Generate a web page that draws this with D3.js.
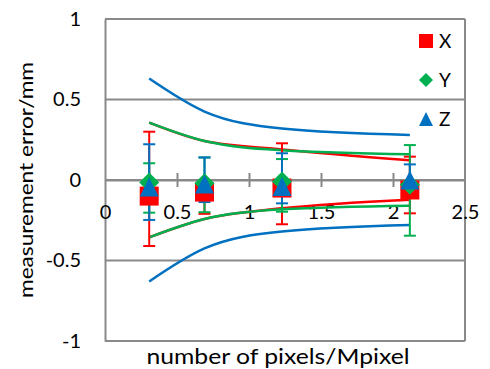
<!DOCTYPE html>
<html>
<head>
<meta charset="utf-8">
<script src="https://cdn.jsdelivr.net/npm/d3@7"></script>
<style>
  body { margin: 0; background: #fff; }
  text { font-family: Lato, "Liberation Sans", sans-serif; fill: #000; }
</style>
</head>
<body>
<div id="chart"></div>
<script>
// x positions (Mpixel)
var pixels = [0.307, 0.691, 1.229, 2.117];

// series means and error bar ends
var xMean = [-0.10, -0.075, -0.05, -0.062],
    xHigh = [0.30, -0.04, 0.228, 0.145],
    xLow  = [-0.41, -0.21, -0.275, -0.207];
var yMean = [-0.015, -0.02, -0.01, -0.03],
    yHigh = [0.104, 0.14, 0.13, 0.217],
    yLow  = [-0.203, -0.20, -0.197, -0.346];
var zMean = [-0.044, -0.025, -0.04, 0.0],
    zHigh = [0.222, 0.14, 0.166, 0.097],
    zLow  = [-0.248, -0.137, -0.145, -0.10];

// bound curves
var blueUpper  = [0.63, 0.425, 0.32, 0.28],
    blueLower  = [-0.63, -0.425, -0.32, -0.28],
    greenUpper = [0.356, 0.242, 0.185, 0.16],
    greenLower = [-0.356, -0.242, -0.182, -0.16],
    redUpper   = [0.356, 0.242, 0.19, 0.122],
    redLower   = [-0.356, -0.242, -0.176, -0.122];

var xTicks = [0, 0.5, 1, 1.5, 2, 2.5],
    yTicks = [-1, -0.5, 0, 0.5, 1];

var width = 490, height = 369;
var RED = "#FF0000", GREEN = "#00B050", BLUE = "#0070C0", GREY = "#898989";

var svg = d3.select("#chart").append("svg")
  .attr("width", width)
  .attr("height", height);

var xScale = d3.scaleLinear().domain([0, 2.5]).range([105, 465]);
var yScale = d3.scaleLinear().domain([-1, 1]).range([341, 19]);

// gridlines
svg.append("g")
  .selectAll("line")
  .data(yTicks)
  .enter()
  .append("line")
  .attr("x1", xScale(0))
  .attr("x2", xScale(2.5))
  .attr("y1", function(d) { return yScale(d); })
  .attr("y2", function(d) { return yScale(d); })
  .attr("stroke", GREY)
  .attr("stroke-width", 2);

// right border
svg.append("line")
  .attr("x1", xScale(2.5)).attr("x2", xScale(2.5))
  .attr("y1", yScale(1)).attr("y2", yScale(-1))
  .attr("stroke", GREY).attr("stroke-width", 2);

// y axis (left border, labels only)
var yAxis = d3.axisLeft(yScale)
  .tickValues(yTicks)
  .tickSize(0)
  .tickPadding(24)
  .tickFormat(function(d) { return d; });

var gy = svg.append("g")
  .attr("transform", `translate(${xScale(0)},0)`)
  .call(yAxis);
gy.select(".domain").attr("stroke", GREY).attr("stroke-width", 2);
gy.selectAll("text").style("font-size", "20px").style("font-family", "Lato, sans-serif").attr("fill", "#000");

// x axis through zero
var xAxis = d3.axisBottom(xScale)
  .tickValues(xTicks)
  .tickSizeInner(7)
  .tickSizeOuter(0)
  .tickPadding(18)
  .tickFormat(function(d) { return d; });

var gx = svg.append("g")
  .attr("transform", `translate(0,${yScale(0)})`)
  .call(xAxis);
gx.select(".domain").attr("stroke", GREY).attr("stroke-width", 2);
gx.selectAll(".tick line")
  .attr("y1", -7)
  .attr("stroke", GREY)
  .attr("stroke-width", 2)
  .filter(function(d) { return d === 0 || d === 2.5; })
  .remove();
gx.selectAll("text").style("font-size", "20px").style("font-family", "Lato, sans-serif").attr("fill", "#000");

// axis titles
svg.append("text")
  .attr("x", 278)
  .attr("y", 364)
  .attr("text-anchor", "middle")
  .attr("textLength", 263)
  .attr("lengthAdjust", "spacingAndGlyphs")
  .style("font-size", "21px")
  .text("number of pixels/Mpixel");

svg.append("text")
  .attr("transform", "translate(33,180) rotate(-90)")
  .attr("text-anchor", "middle")
  .attr("textLength", 236)
  .attr("lengthAdjust", "spacingAndGlyphs")
  .style("font-size", "20px")
  .text("measurement error/mm");

// curves
var line = d3.line()
  .x(function(d, i) { return xScale(pixels[i]); })
  .y(function(d) { return yScale(d); })
  .curve(d3.curveMonotoneX);

var curves = [
  { values: redUpper, color: RED },
  { values: redLower, color: RED },
  { values: greenUpper, color: GREEN },
  { values: greenLower, color: GREEN },
  { values: blueUpper, color: BLUE },
  { values: blueLower, color: BLUE }
];

svg.append("g")
  .selectAll("path")
  .data(curves)
  .enter()
  .append("path")
  .attr("d", function(d) { return line(d.values); })
  .attr("fill", "none")
  .attr("stroke", function(d) { return d.color; })
  .attr("stroke-width", 2.5);

// series
var series = [
  { name: "X", mean: xMean, high: xHigh, low: xLow, color: RED, shape: "square" },
  { name: "Y", mean: yMean, high: yHigh, low: yLow, color: GREEN, shape: "diamond" },
  { name: "Z", mean: zMean, high: zHigh, low: zLow, color: BLUE, shape: "triangle" }
];

function shapePath(shape, s) {
  var h = s / 2;
  if (shape == "square") return `M${-h},${-h}H${h}V${h}H${-h}Z`;
  if (shape == "diamond") return `M0,${-h}L${h},0L0,${h}L${-h},0Z`;
  return `M0,${-h}L${h},${h}L${-h},${h}Z`;
}

var capW = 6;

// error bars
series.forEach(function(s) {
  var g = svg.append("g").attr("stroke", s.color).attr("stroke-width", 2);
  pixels.forEach(function(p, i) {
    var cx = xScale(p);
    g.append("line")
      .attr("x1", cx).attr("x2", cx)
      .attr("y1", yScale(s.high[i])).attr("y2", yScale(s.low[i]));
    [s.high[i], s.low[i]].forEach(function(v) {
      g.append("line")
        .attr("x1", cx - capW).attr("x2", cx + capW)
        .attr("y1", yScale(v)).attr("y2", yScale(v));
    });
  });
});

// markers
var markerSize = { square: 19, diamond: 20, triangle: 19 };
series.forEach(function(s) {
  svg.append("g")
    .selectAll("path")
    .data(s.mean)
    .enter()
    .append("path")
    .attr("d", shapePath(s.shape, markerSize[s.shape]))
    .attr("transform", function(d, i) {
      return `translate(${xScale(pixels[i])},${yScale(d)})`;
    })
    .attr("fill", s.color);
});

// legend
var legend = svg.append("g")
  .selectAll("g")
  .data(series)
  .enter()
  .append("g")
  .attr("transform", function(d, i) { return `translate(426,${41 + i * 39})`; });

legend.append("path")
  .attr("d", function(d) { return shapePath(d.shape, 14); })
  .attr("fill", function(d) { return d.color; });

legend.append("text")
  .attr("x", 13)
  .attr("y", 7)
  .style("font-size", "19px")
  .text(function(d) { return d.name; });
</script>
</body>
</html>
